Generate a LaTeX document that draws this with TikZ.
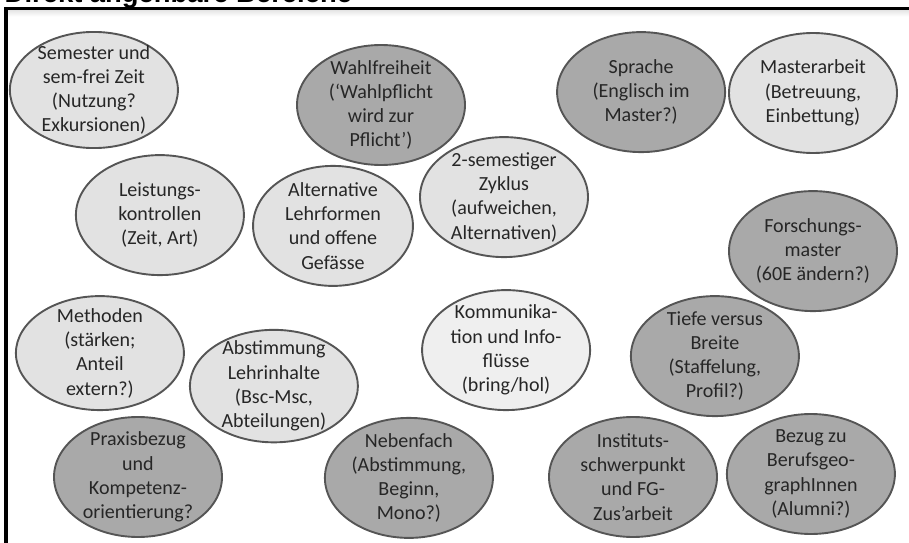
\documentclass[tikz,border=0pt]{standalone}
\usepackage{fontspec}
\setmainfont{Carlito}
\newfontfamily\titelfont{Liberation Sans}
\usetikzlibrary{shapes.geometric}
\definecolor{hell}{HTML}{E2E2E2}
\definecolor{dunkel}{HTML}{A9A9A9}
\definecolor{blass}{HTML}{EFEFEF}
\definecolor{rand}{HTML}{555555}
\begin{document}
\begin{tikzpicture}[
    thema/.style={ellipse, draw=rand, line width=1.8pt, minimum width=5.6cm, minimum height=4cm, inner sep=-4mm, align=center, text=black!85, font=\fontsize{19}{23}\selectfont},
    hellthema/.style={thema, fill=hell},
    dunkelthema/.style={thema, fill=dunkel},
    blassthema/.style={thema, fill=blass}
]
\useasboundingbox (0,0) rectangle (30.3,-18.1);

% Titel und Rahmen
\node[anchor=base west, inner sep=0pt, font=\titelfont\bfseries\fontsize{26}{30}\selectfont] (titel) at (0.15,-0.07) {Direkt angehbare Bereiche};
\shade[top color=black!12, bottom color=white] (0.25,-0.3) rectangle (30.5,-0.55);
\draw[line width=3pt] (0.2,-18.5) |- (30.6,-0.27);

% Themen
\node[hellthema, minimum height=3.87cm] (sem) at (3.13,-3.00) {Semester und\\sem-frei Zeit\\(Nutzung?\\Exkursionen)};
\node[dunkelthema] (wahl) at (12.70,-3.50) {Wahlfreiheit\\(‘Wahlpflicht\\wird zur\\Pflicht’)};
\node[dunkelthema] (sprache) at (21.37,-3.07) {Sprache\\(Englisch im\\Master?)};
\node[hellthema] (master) at (27.10,-3.10) {Masterarbeit\\(Betreuung,\\Einbettung)};
\node[hellthema] (leist) at (5.33,-7.17) {Leistungs-\\kontrollen\\(Zeit, Art)};
\node[hellthema, minimum width=5.33cm] (lehrf) at (11.10,-7.53) {Alternative\\Lehrformen\\und offene\\Gefässe};
\node[hellthema] (zyklus) at (16.80,-6.57) {2-semestiger\\Zyklus\\(aufweichen,\\Alternativen)};
\node[dunkelthema] (forsch) at (27.10,-8.37) {Forschungs-\\master\\(60E ändern?)};
\node[hellthema, minimum height=3.8cm] (meth) at (3.33,-11.77) {Methoden\\(stärken;\\Anteil\\extern?)};
\node[hellthema, minimum height=3.75cm] (abst) at (9.13,-12.87) {Abstimmung\\Lehrinhalte\\(Bsc-Msc,\\Abteilungen)};
\node[blassthema] (komm) at (16.87,-11.67) {Kommunika-\\tion und Info-\\flüsse\\(bring/hol)};
\node[dunkelthema] (tiefe) at (23.83,-11.87) {Tiefe versus\\Breite\\(Staffelung,\\Profil?)};
\node[dunkelthema] (praxis) at (4.60,-15.90) {Praxisbezug\\und\\Kompetenz-\\orientierung?};
\node[dunkelthema] (neben) at (13.63,-15.93) {Nebenfach\\(Abstimmung,\\Beginn,\\Mono?)};
\node[dunkelthema] (inst) at (21.10,-15.90) {Instituts-\\schwerpunkt\\und FG-\\Zus’arbeit};
\node[dunkelthema] (beruf) at (27.03,-15.80) {Bezug zu\\Berufsgeo-\\graphInnen\\(Alumni?)};

\end{tikzpicture}
\end{document}
